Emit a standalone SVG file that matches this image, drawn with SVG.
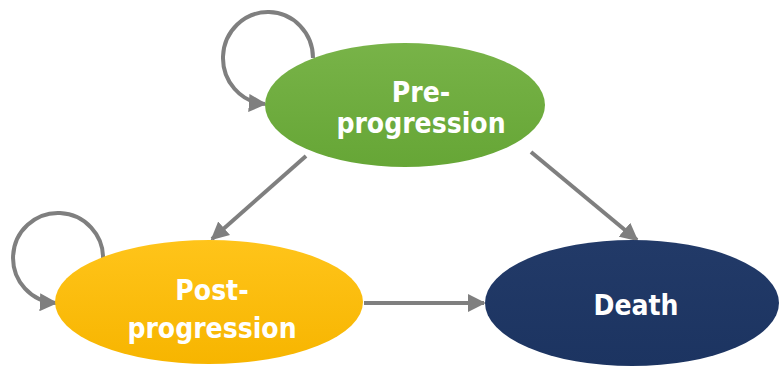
<svg xmlns="http://www.w3.org/2000/svg" width="780" height="367" viewBox="0 0 780 367">
<defs>
<marker id="ah" viewBox="0 0 10 10" refX="9" refY="5" markerWidth="4.5" markerHeight="4.5" orient="auto" markerUnits="strokeWidth">
<path d="M0,0 L10,5 L0,10 Z" fill="#7f7f7f"/>
</marker>
<linearGradient id="gGreen" x1="0" y1="0" x2="0" y2="1">
<stop offset="0" stop-color="#78b348"/>
<stop offset="1" stop-color="#66a636"/>
</linearGradient>
<linearGradient id="gYellow" x1="0" y1="0" x2="0" y2="1">
<stop offset="0" stop-color="#ffc41a"/>
<stop offset="1" stop-color="#f7b500"/>
</linearGradient>
<linearGradient id="gNavy" x1="0" y1="0" x2="0" y2="1">
<stop offset="0" stop-color="#223a68"/>
<stop offset="1" stop-color="#1c3461"/>
</linearGradient>
</defs>
<style>
.conn{fill:none;stroke:#7f7f7f;stroke-width:4;marker-end:url(#ah)}
.lbl{font-family:"DejaVu Sans Condensed","DejaVu Sans",sans-serif;font-weight:bold;font-size:28px;fill:#ffffff;text-anchor:middle}
</style>
<rect width="780" height="367" fill="#ffffff"/>
<g id="connectors">
<path class="conn" d="M313,58 A45,46 0 1 0 265,104"/>
<path class="conn" d="M103,260 A45,45 0 1 0 56,303"/>
<path class="conn" d="M306,156 L212,239"/>
<path class="conn" d="M531,152 L637,240"/>
<path class="conn" d="M364,303 L484,303"/>
</g>
<g id="pre-progression">
<ellipse cx="405" cy="105" rx="140" ry="62" fill="url(#gGreen)"/>
<text class="lbl" x="421" y="102">Pre-</text>
<text class="lbl" x="421" y="133">progression</text>
</g>
<g id="post-progression">
<ellipse cx="209" cy="302" rx="154" ry="62" fill="url(#gYellow)"/>
<text class="lbl" x="212" y="300">Post-</text>
<text class="lbl" x="212" y="338">progression</text>
</g>
<g id="death">
<ellipse cx="632" cy="303" rx="147" ry="63" fill="url(#gNavy)"/>
<text class="lbl" x="636" y="315">Death</text>
</g>
</svg>
